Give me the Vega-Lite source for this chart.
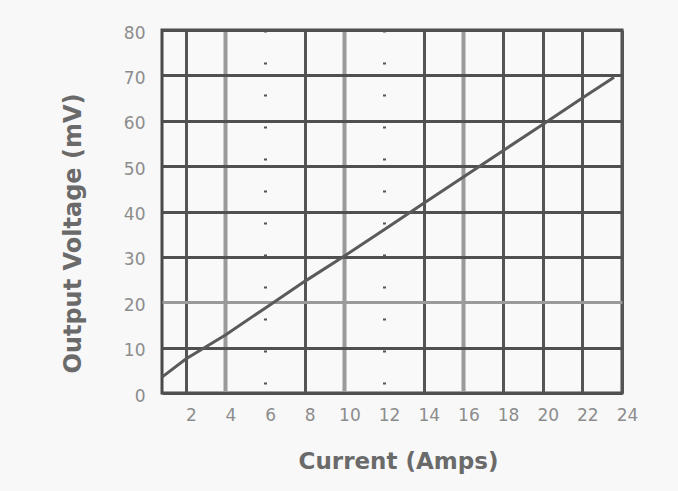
{
  "$schema": "https://vega.github.io/schema/vega-lite/v6.json",
  "autosize": "none",
  "width": 460,
  "height": 363,
  "padding": {"left": 162, "top": 30, "right": 56, "bottom": 98},
  "background": "#f8f8f8",
  "config": {
    "view": {"stroke": "#4a4a4a", "strokeWidth": 3, "fill": "#f9f9f9"},
    "axis": {
      "labelFont": "DejaVu Sans",
      "labelFontSize": 17,
      "labelColor": "#8c8c8c",
      "titleFont": "DejaVu Sans",
      "titleFontWeight": "bold",
      "titleColor": "#6a6a6a",
      "domain": false,
      "ticks": false
    }
  },
  "data": {
    "values": [
      {"current": 0.8, "voltage": 3.5},
      {"current": 2, "voltage": 7.5},
      {"current": 4, "voltage": 12.8},
      {"current": 6, "voltage": 18.7},
      {"current": 8, "voltage": 24.6},
      {"current": 10, "voltage": 30.2},
      {"current": 12, "voltage": 36},
      {"current": 14, "voltage": 41.8},
      {"current": 16, "voltage": 47.6},
      {"current": 18, "voltage": 53.4},
      {"current": 20, "voltage": 59.2},
      {"current": 22, "voltage": 65},
      {"current": 23.6, "voltage": 69.6}
    ]
  },
  "mark": {"type": "line", "color": "#5a5a5a", "strokeWidth": 3},
  "encoding": {
    "x": {
      "field": "current",
      "type": "quantitative",
      "scale": {"domain": [0.8, 24], "nice": false, "zero": false},
      "axis": {
        "values": [2, 4, 6, 8, 10, 12, 14, 16, 18, 20, 22, 24],
        "title": "Current  (Amps)",
        "titleFontSize": 23,
        "titleX": 236,
        "titleY": 68,
        "titleBaseline": "middle",
        "labelPadding": 14,
        "labelOffset": 5,
        "labelFlush": false,
        "grid": true,
        "gridColor": {"condition": {"test": "datum.value === 4 || datum.value === 10 || datum.value === 16", "value": "#9a9a9a"}, "value": "#555555"},
        "gridWidth": {"condition": {"test": "datum.value === 4 || datum.value === 10 || datum.value === 16", "value": 4}, "value": 3},
        "gridDash": {"condition": {"test": "datum.value === 6 || datum.value === 12", "value": [2, 30]}, "value": []}
      }
    },
    "y": {
      "field": "voltage",
      "type": "quantitative",
      "scale": {"domain": [0, 80], "nice": false},
      "axis": {
        "values": [0, 10, 20, 30, 40, 50, 60, 70, 80],
        "title": "Output Voltage  (mV)",
        "titleFontSize": 24,
        "titleX": -89,
        "titleY": 203,
        "titleBaseline": "middle",
        "labelPadding": 17,
        "labelOffset": 3,
        "labelFlush": false,
        "grid": true,
        "gridColor": {"condition": {"test": "datum.value === 20", "value": "#9a9a9a"}, "value": "#505050"},
        "gridWidth": 3
      }
    }
  }
}
